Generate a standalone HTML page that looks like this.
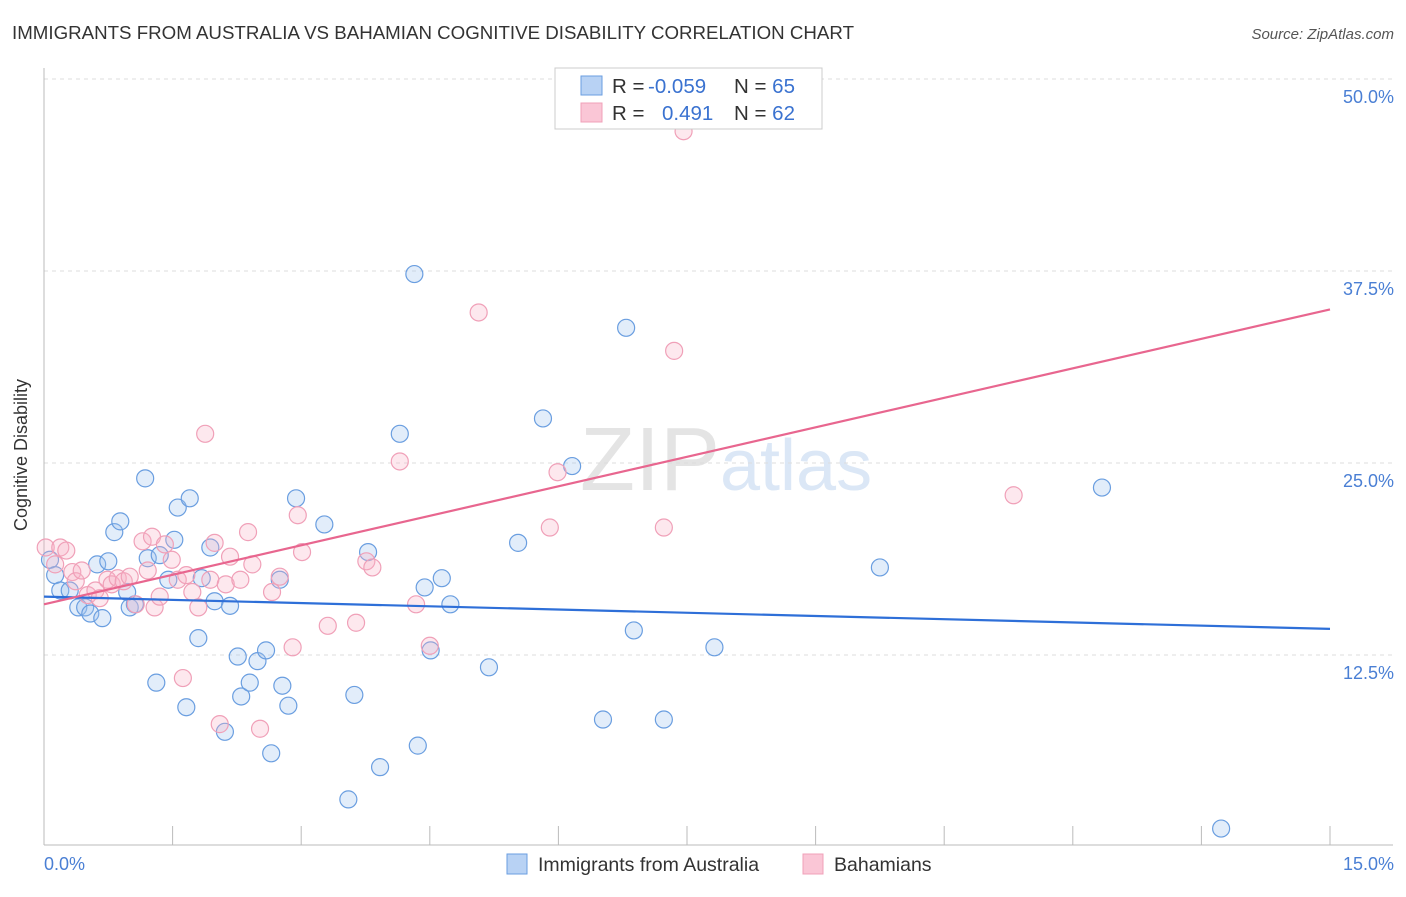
<!DOCTYPE html>
<html><head><meta charset="utf-8"><style>
body{margin:0;background:#fff;font-family:"Liberation Sans",sans-serif}
svg text{font-family:"Liberation Sans",sans-serif}
</style></head><body>
<svg id="c" width="1406" height="892" xmlns="http://www.w3.org/2000/svg">
<text x="12" y="39" font-size="18" fill="#333" textLength="842" lengthAdjust="spacingAndGlyphs">IMMIGRANTS FROM AUSTRALIA VS BAHAMIAN COGNITIVE DISABILITY CORRELATION CHART</text>
<text x="1394" y="39" font-size="15" fill="#555" font-style="italic" text-anchor="end">Source: ZipAtlas.com</text>
<text x="720" y="490" font-size="90" fill="#e4e4e4" text-anchor="end" font-family="Liberation Serif">ZIP</text>
<text x="720" y="490" font-size="72" fill="#dbe7f6">atlas</text>
<g id="grid"></g>
<line x1="44" y1="68" x2="44" y2="845" stroke="#bbb"/>
<line x1="44" y1="845" x2="1393" y2="845" stroke="#bbb"/>
<text x="27" y="455" font-size="18" fill="#333" text-anchor="middle" transform="rotate(-90 27 455)">Cognitive Disability</text>
<text x="44" y="870" font-size="18" fill="#4a7fd4">0.0%</text>
<text x="1394" y="870" font-size="18" fill="#4a7fd4" text-anchor="end">15.0%</text>
<g id="pts"></g>
<g id="trends"></g>
<g>
<rect x="555" y="68" width="267" height="61" fill="#fff" stroke="#ccc"/>
<rect x="581" y="76" width="21" height="19" fill="#b8d2f4" stroke="#6a9ee0"/>
<rect x="581" y="103" width="21" height="19" fill="#fac6d6" stroke="#f0a0b8"/>
<text x="612" y="93" font-size="20.5" fill="#333">R = <tspan x="648" fill="#3a72d0">-0.059</tspan><tspan x="734">N = </tspan><tspan fill="#3a72d0">65</tspan></text>
<text x="612" y="120" font-size="20.5" fill="#333">R = <tspan x="662" fill="#3a72d0">0.491</tspan><tspan x="734">N = </tspan><tspan fill="#3a72d0">62</tspan></text>
</g>
<g>
<rect x="507" y="854" width="20" height="20" fill="#b8d2f4" stroke="#6a9ee0"/>
<text x="538" y="871" font-size="19.5" fill="#333">Immigrants from Australia</text>
<rect x="803" y="854" width="20" height="20" fill="#fac6d6" stroke="#f0a0b8"/>
<text x="834" y="871" font-size="19.5" fill="#333">Bahamians</text>
</g>
</svg>
<script>
const yTicks=[12.5,25,37.5,50];
const yTickLabels=["12.5%","25.0%","37.5%","50.0%"];
const xTicks=[0,1.5,3,4.5,6,7.5,9,10.5,12,13.5,15];
const blueX=[0.07,0.13,0.19,0.30,0.40,0.48,0.54,0.62,0.68,0.75,0.82,0.89,0.97,1.00,1.06,1.18,1.21,1.31,1.35,1.45,1.52,1.56,1.66,1.70,1.80,1.84,1.94,1.99,2.11,2.17,2.26,2.30,2.40,2.49,2.59,2.65,2.75,2.78,2.85,2.94,3.27,3.55,3.62,3.78,3.92,4.15,4.32,4.36,4.44,4.51,4.64,4.74,5.19,5.53,5.82,6.16,6.52,6.79,6.88,7.23,7.82,9.75,12.34,13.73];
const blueY=[18.7,17.7,16.7,16.7,15.6,15.6,15.2,18.4,14.9,18.6,20.5,21.2,16.6,15.6,15.8,24.0,18.8,10.7,19.0,17.4,20.0,22.1,9.1,22.7,13.6,17.5,19.5,16.0,7.5,15.7,12.4,9.8,10.7,12.1,12.8,6.1,17.4,10.5,9.2,22.7,21.0,3.1,9.9,19.2,5.2,26.9,37.3,6.6,16.9,12.8,17.5,15.8,11.7,19.8,27.9,24.8,8.3,33.8,14.1,8.3,13.0,18.2,23.4,1.2];
const pinkX=[0.02,0.13,0.19,0.26,0.33,0.37,0.44,0.51,0.60,0.65,0.74,0.79,0.86,0.93,1.00,1.07,1.15,1.21,1.26,1.29,1.35,1.41,1.49,1.56,1.62,1.66,1.73,1.80,1.88,1.94,1.99,2.05,2.12,2.17,2.29,2.38,2.43,2.52,2.66,2.75,2.90,2.96,3.01,3.31,3.64,3.76,3.83,4.15,4.34,4.50,5.07,5.90,5.99,7.23,7.35,7.46,11.31];
const pinkY=[19.5,18.4,19.5,19.3,17.9,17.3,18.0,16.4,16.7,16.2,17.4,17.1,17.5,17.3,17.6,15.8,19.9,18.0,20.2,15.6,16.3,19.7,18.7,17.4,11.0,17.7,16.6,15.6,26.9,17.4,19.8,8.0,17.1,18.9,17.4,20.5,18.4,7.7,16.6,17.6,13.0,21.6,19.2,14.4,14.6,18.6,18.2,25.1,15.8,13.1,34.8,20.8,24.4,20.8,32.3,46.6,22.9];
const blueTrend=[16.3,14.2];
const pinkTrend=[15.8,35.0];
const NS="http://www.w3.org/2000/svg";
const sx=v=>44+v*(1286/15);
const sy=v=>847-v*(768/50);
function mk(t,a,p){const e=document.createElementNS(NS,t);for(const k in a)e.setAttribute(k,a[k]);p.appendChild(e);return e;}
const grid=document.getElementById('grid');
yTicks.forEach((v,i)=>{
 const l=mk('line',{x1:44,x2:1393,y1:sy(v),y2:sy(v),stroke:'#ddd','stroke-dasharray':'4 4'},grid);
 
 
 const t=mk('text',{x:1394,y:sy(v)+24,'font-size':18,fill:'#4a7fd4','text-anchor':'end'},grid);
 t.textContent=yTickLabels[i];
 
 
});
xTicks.forEach(v=>{
 const l=mk('line',{x1:sx(v),x2:sx(v),y1:826,y2:845,stroke:'#bbb'},grid);
 
 
});
const pts=document.getElementById('pts');
blueX.forEach((x,i)=>{
 const c=mk('circle',{cx:sx(x),cy:sy(blueY[i]),r:8.5,fill:'rgba(160,196,240,0.3)',stroke:'#6a9ee0','stroke-width':1.2},pts);
 
 
});
pinkX.forEach((x,i)=>{
 const c=mk('circle',{cx:sx(x),cy:sy(pinkY[i]),r:8.5,fill:'rgba(248,180,200,0.3)',stroke:'#f0a0b8','stroke-width':1.2},pts);
 
 
});
const tr=document.getElementById('trends');
const bl=mk('line',{x1:sx(0),y1:sy(blueTrend[0]),x2:sx(15),y2:sy(blueTrend[1]),stroke:'#2e6fd8','stroke-width':2.2},tr);


const pl=mk('line',{x1:sx(0),y1:sy(pinkTrend[0]),x2:sx(15),y2:sy(pinkTrend[1]),stroke:'#e8668f','stroke-width':2.2},tr);


</script>
</body></html>
